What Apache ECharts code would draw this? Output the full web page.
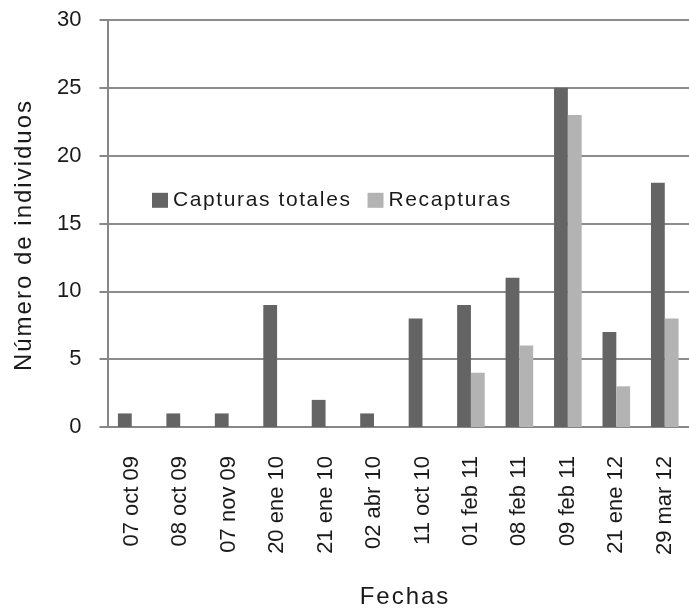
<!DOCTYPE html>
<html><head><meta charset="utf-8">
<script src="https://cdn.jsdelivr.net/npm/echarts@6/dist/echarts.min.js"></script>
<style>html,body{margin:0;padding:0;background:#fff}#c{width:689px;height:614px}</style>
</head><body><div id="c"></div>
<script>
const categories = ['07 oct 09','08 oct 09','07 nov 09','20 ene 10','21 ene 10','02 abr 10','11 oct 10','01 feb 11','08 feb 11','09 feb 11','21 ene 12','29 mar 12'];
const capturasTotales = [1,1,1,9,2,1,8,9,11,25,7,18];
const recapturas = [0,0,0,0,0,0,0,4,6,23,3,8];
const yTicks = [0,5,10,15,20,25,30];

// letter spacing for wide-set text (reference uses loosely tracked type)
(function(){
  const P = CanvasRenderingContext2D.prototype;
  const spacingFor = f => /lsB/.test(f) ? '2px' : (/lsA/.test(f) ? '1.6px' : '0px');
  ['fillText','strokeText','measureText'].forEach(fn => {
    const orig = P[fn];
    P[fn] = function(){ try { this.letterSpacing = spacingFor(this.font); } catch(e){} return orig.apply(this, arguments); };
  });
})();

const font = '"Liberation Sans", Arial, sans-serif';
const fontA = 'lsA, "Liberation Sans", Arial, sans-serif';
const fontB = 'lsB, "Liberation Sans", Arial, sans-serif';
const txt = '#1a1a1a';
const chart = echarts.init(document.getElementById('c'), null, {renderer:'canvas'});
chart.setOption({
  animation: false,
  textStyle: {fontFamily: font},
  grid: {left: 107.5, right: -8.5, top: 20, bottom: 187, containLabel: false},
  legend: {
    left: 147, top: 184,
    itemWidth: 16, itemHeight: 15, itemGap: 16,
    icon: 'rect',
    textStyle: {fontSize: 21, color: txt, fontFamily: fontA},
    data: ['Capturas totales','Recapturas']
  },
  xAxis: {
    type: 'category', data: categories,
    axisLine: {lineStyle: {color: '#878787', width: 2}},
    axisTick: {show: false},
    axisLabel: {rotate: 90, fontSize: 22, color: txt, margin: 29, interval: 0, fontFamily: font}
  },
  yAxis: {
    type: 'value', min: yTicks[0], max: yTicks[yTicks.length-1], interval: 5,
    axisLine: {show: true, lineStyle: {color: '#878787', width: 2}},
    axisTick: {show: true, length: 8, lineStyle: {color: '#878787', width: 2}},
    splitLine: {lineStyle: {color: '#8c8c8c', width: 2}},
    axisLabel: {fontSize: 22, color: txt, margin: 26, fontFamily: font}
  },
  graphic: [
    {type: 'text', x: 24, y: 235, rotation: Math.PI/2,
     style: {text: 'Número de individuos', fontSize: 24, fill: txt, fontFamily: fontB, align: 'center', verticalAlign: 'middle'}},
    {type: 'text', x: 405, y: 597,
     style: {text: 'Fechas', fontSize: 24, fill: txt, fontFamily: fontB, align: 'center', verticalAlign: 'middle'}}
  ],
  series: [
    {name: 'Capturas totales', type: 'bar', data: capturasTotales, barGap: '0%', barCategoryGap: '43%',
     itemStyle: {color: '#646464'}},
    {name: 'Recapturas', type: 'bar', data: recapturas,
     itemStyle: {color: '#b3b3b3'}}
  ]
});
</script></body></html>
